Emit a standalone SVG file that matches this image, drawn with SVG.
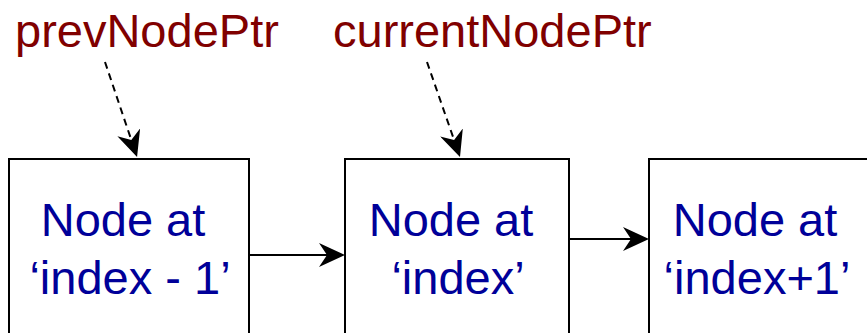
<svg xmlns="http://www.w3.org/2000/svg" width="867" height="333" viewBox="0 0 867 333">
<style>
.box{fill:#ffffff;stroke:#000000;stroke-width:2}
.lbl{font-family:"Liberation Sans",Arial,sans-serif;font-size:47px;fill:#000099;text-anchor:middle}
.ptr{font-family:"Liberation Sans",Arial,sans-serif;font-size:47px;fill:#800000}
.link{stroke:#000000;stroke-width:2;fill:none}
.dash{stroke:#000000;stroke-width:2;fill:none;stroke-dasharray:7 5}
</style>
<defs>
<marker id="ah" markerUnits="userSpaceOnUse" viewBox="0 0 26 24" markerWidth="26" markerHeight="24" refX="8" refY="12" orient="auto">
<path d="M0,0 L26,12 L0,24 L8,12 Z" fill="#000000"/>
</marker>
</defs>
<rect width="867" height="333" fill="#ffffff"/>
<g id="label-prev"><text class="ptr" x="15" y="47">prevNodePtr</text></g>
<g id="label-current"><text class="ptr" x="333" y="47">currentNodePtr</text></g>
<g id="node-prev">
<rect class="box" x="9" y="159" width="240" height="200"/>
<text class="lbl" x="123" y="236">Node at</text>
<text class="lbl" x="130" y="294">‘index - 1’</text>
</g>
<g id="node-current">
<rect class="box" x="345" y="159" width="224" height="200"/>
<text class="lbl" x="451" y="236">Node at</text>
<text class="lbl" x="458" y="294">‘index’</text>
</g>
<g id="node-next">
<rect class="box" x="649" y="159" width="240" height="200"/>
<text class="lbl" x="755" y="236">Node at</text>
<text class="lbl" x="757" y="294">‘index+1’</text>
</g>
<g id="connectors">
<line class="link" x1="249" y1="255" x2="327" y2="255" marker-end="url(#ah)"/>
<line class="link" x1="569" y1="239" x2="631" y2="239" marker-end="url(#ah)"/>
<line class="dash" x1="105" y1="62" x2="131.3" y2="139.9" marker-end="url(#ah)"/>
<line class="dash" x1="427" y1="62" x2="454.1" y2="140" marker-end="url(#ah)"/>
</g>
</svg>
